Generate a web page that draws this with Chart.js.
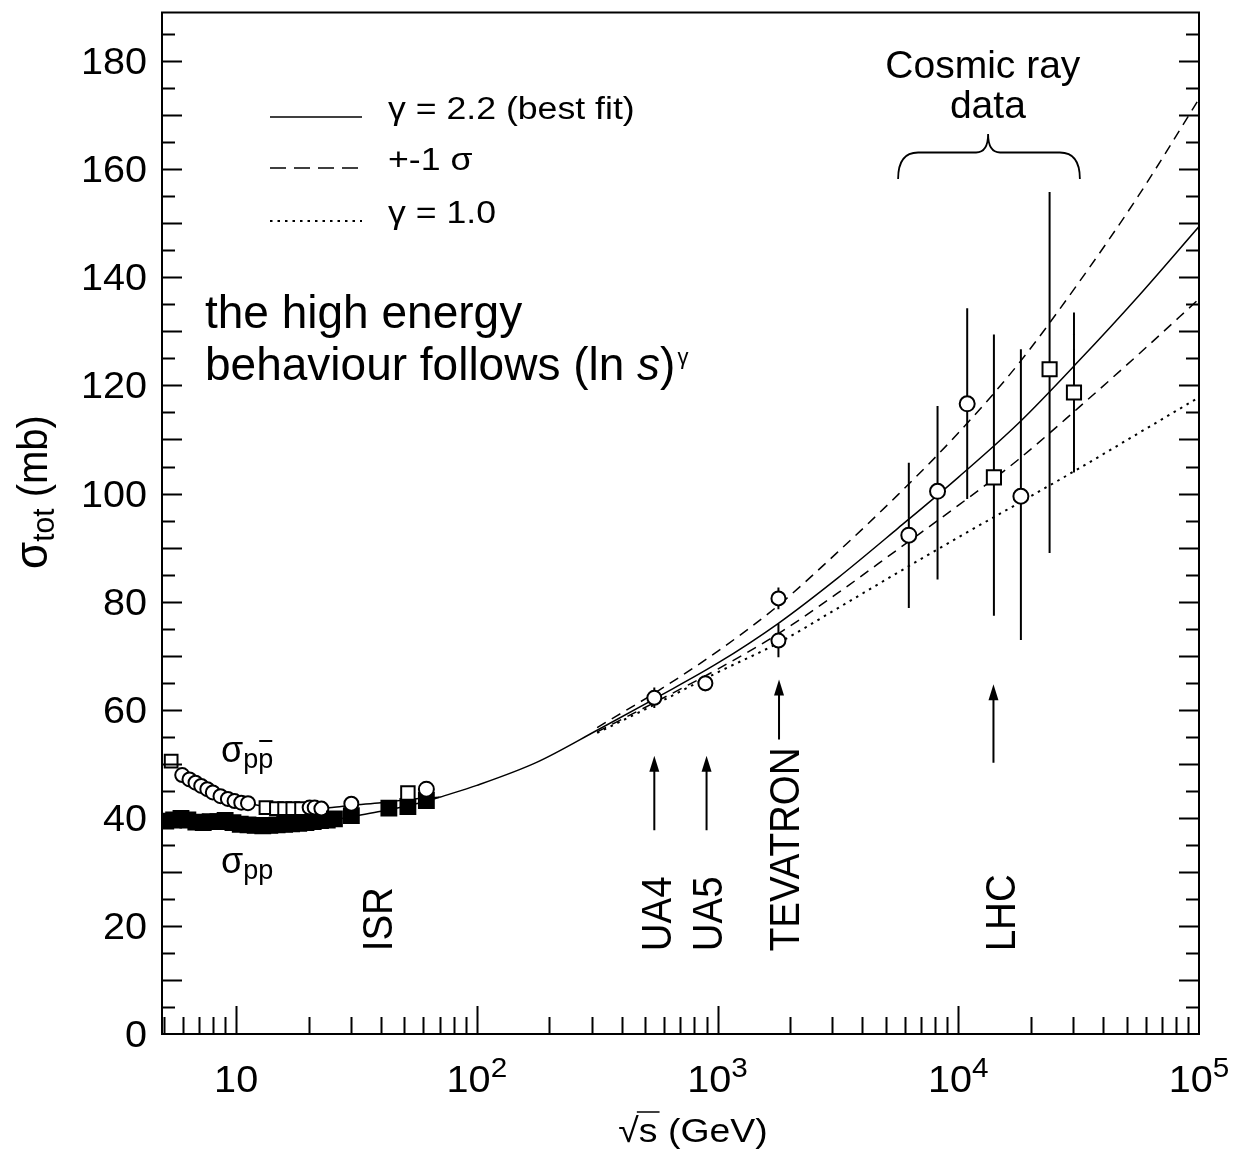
<!DOCTYPE html>
<html>
<head>
<meta charset="utf-8">
<script src="https://cdn.jsdelivr.net/npm/chart.js@4.4.0/dist/chart.umd.min.js"></script>
<style>
  html, body { margin: 0; padding: 0; background: #fff; }
  #wrap { width: 1238px; height: 1157px; }
</style>
</head>
<body>
<div id="wrap"><canvas id="chart"></canvas></div>
<script>
// sqrt(s) in GeV, sigma_tot in mb

// pp, low energy (filled squares)
const ppLowX = [5.1, 5.5, 5.9, 6.3, 6.8, 7.3, 7.8, 8.4, 9.0, 9.7, 10.4, 11.2, 12.0, 12.9, 13.8, 14.8, 15.9, 17.0, 18.2, 19.5, 20.9, 22.4, 23.9];
const ppLowY = [39.4, 39.6, 39.9, 39.6, 39.2, 39.1, 39.3, 39.3, 39.5, 39.1, 38.8, 38.7, 38.6, 38.5, 38.6, 38.7, 38.8, 38.9, 39.0, 39.1, 39.3, 39.5, 39.6];
// pp, ISR
const ppIsrX = [25.6, 30.1, 43.1, 51.7, 61.7];
const ppIsrY = [39.8, 40.4, 41.8, 42.1, 43.2];

// pbar-p, low energy (open symbols)
const pbarLowX = [5.37, 5.97, 6.40, 6.78, 7.16, 7.59, 8.00, 8.61, 9.24, 9.85, 10.5, 11.2, 13.3, 14.7, 15.9, 17.2, 18.7, 20.2, 21.2, 22.6];
const pbarLowY = [50.5, 47.9, 47.1, 46.5, 45.9, 45.3, 44.7, 44.0, 43.5, 43.1, 42.8, 42.7, 41.9, 41.7, 41.7, 41.7, 41.7, 41.9, 41.9, 41.7];
const pbarLowShape = ['rect', 'circle', 'circle', 'circle', 'circle', 'circle', 'circle', 'circle', 'circle', 'circle', 'circle', 'circle',
                      'rect', 'rect', 'rect', 'rect', 'rect', 'circle', 'circle', 'circle'];
// pbar-p, ISR
const pbarIsrX = [30.1, 51.7, 61.7];
const pbarIsrY = [42.6, 44.6, 45.3];

// pbar-p colliders: UA4, UA5, Tevatron (two)
const colliderX = [546, 890, 1790, 1790];
const colliderY = [62.2, 64.9, 80.6, 72.8];
const colliderErr = [1.9, 1.5, 2.0, 3.1];

// cosmic ray data
const cosmicX = [6230, 8200, 10890, 14060, 18200, 23950, 30240];
const cosmicY = [92.3, 100.4, 116.6, 103.0, 99.5, 123.0, 118.7];
const cosmicLo = [78.8, 84.1, 99.0, 77.4, 72.9, 89.0, 103.9];
const cosmicHi = [105.7, 116.2, 134.3, 129.4, 126.7, 155.8, 133.5];
const cosmicShape = ['circle', 'circle', 'circle', 'rect', 'circle', 'rect', 'rect'];

// fits
const lowFitX = [10, 15, 20, 25, 30, 40, 50, 62, 70];
const ppFitY = [38.9, 38.6, 38.9, 39.5, 40.2, 41.2, 42.1, 43.1, 43.8];
const pbarFitY = [43.1, 41.8, 41.7, 41.9, 42.3, 42.8, 43.3, 43.7, 43.8];

const fitX = [70, 100, 178, 316, 562, 1000, 1778, 3162, 5623, 1e4, 17783, 31623, 56234, 1e5];
const bestY = [43.8, 46.0, 50.3, 56.2, 62.3, 68.6, 75.9, 84.4, 93.6, 103.0, 113.0, 124.5, 136.6, 149.4];
const bandX = [316, 562, 1000, 1778, 3162, 5623, 1e4, 17783, 31623, 56234, 1e5];
const plusY = [56.7, 63.4, 70.8, 79.2, 89.2, 99.8, 111.2, 124.0, 139.0, 155.2, 173.0];
const minusY = [55.9, 61.6, 67.5, 74.0, 81.6, 89.7, 97.8, 106.3, 115.9, 125.8, 136.0];
const gamma1Y = [55.7, 61.2, 66.9, 72.3, 78.8, 85.4, 91.9, 98.2, 104.6, 111.2, 117.8];

// axes
const yTicks = [0, 20, 40, 60, 80, 100, 120, 140, 160, 180];
const xDecades = [10, 100, 1000, 1e4, 1e5];
const xDecadeExp = ['', '2', '3', '4', '5'];

// experiment arrows: [sqrt(s), from, tip]
const arrows = [[546, 37.7, 51.5], [900, 37.7, 51.5], [1800, 54.5, 65.6], [14000, 50.2, 64.7]];

const pts = (xs, ys) => xs.map((x, i) => ({ x: x, y: ys[i] }));
const FONT = '"Liberation Sans", Arial, Helvetica, sans-serif';
const font = (size, italic) => (italic ? 'italic ' : '') + size + 'px ' + FONT;

// parts: [text, size, dy, italic]
function drawRun(ctx, parts, x, y, opt) {
    opt = opt || {};
    ctx.save();
    ctx.translate(x, y);
    if (opt.rot) ctx.rotate(opt.rot);
    ctx.scale(opt.sx || 1, opt.sy || 1);
    var w = 0;
    parts.forEach(p => { ctx.font = font(p[1], p[3]); w += ctx.measureText(p[0]).width; });
    var cx = opt.align === 'center' ? -w / 2 : (opt.align === 'right' ? -w : 0);
    ctx.fillStyle = '#000';
    ctx.textAlign = 'left';
    ctx.textBaseline = 'alphabetic';
    parts.forEach(p => {
        ctx.font = font(p[1], p[3]);
        ctx.fillText(p[0], cx, p[2] || 0);
        cx += ctx.measureText(p[0]).width;
    });
    ctx.restore();
    return w * (opt.sx || 1);
}

const decor = {
    id: 'decor',
    beforeDatasetsDraw(chart) {
        const ctx = chart.ctx, xs = chart.scales.x, ys = chart.scales.y, a = chart.chartArea;
        ctx.save();
        ctx.beginPath();
        ctx.rect(a.left, a.top, a.right - a.left, a.bottom - a.top);
        ctx.clip();
        ctx.strokeStyle = '#000';
        ctx.lineWidth = 2;
        ctx.beginPath();
        cosmicX.forEach((x, i) => {
            const X = xs.getPixelForValue(x);
            ctx.moveTo(X, ys.getPixelForValue(cosmicLo[i]));
            ctx.lineTo(X, ys.getPixelForValue(cosmicHi[i]));
        });
        colliderX.forEach((x, i) => {
            const X = xs.getPixelForValue(x);
            ctx.moveTo(X, ys.getPixelForValue(colliderY[i] - colliderErr[i]));
            ctx.lineTo(X, ys.getPixelForValue(colliderY[i] + colliderErr[i]));
        });
        ctx.stroke();

        // arrows
        ctx.fillStyle = '#000';
        arrows.forEach(ar => {
            const X = xs.getPixelForValue(ar[0]), Y0 = ys.getPixelForValue(ar[1]), Y1 = ys.getPixelForValue(ar[2]);
            ctx.beginPath();
            ctx.moveTo(X, Y0);
            ctx.lineTo(X, Y1 + 10);
            ctx.stroke();
            ctx.beginPath();
            ctx.moveTo(X, Y1);
            ctx.lineTo(X - 5, Y1 + 16);
            ctx.lineTo(X + 5, Y1 + 16);
            ctx.closePath();
            ctx.fill();
        });

        // brace over cosmic ray data
        const xl = xs.getPixelForValue(5623), xr = xs.getPixelForValue(32000), xt = xs.getPixelForValue(13300);
        const yb = ys.getPixelForValue(158.2), ym = ys.getPixelForValue(163.1), yt = ys.getPixelForValue(166.5);
        ctx.lineWidth = 1.8;
        ctx.beginPath();
        ctx.moveTo(xl, yb);
        ctx.quadraticCurveTo(xl, ym, xl + 20, ym);
        ctx.lineTo(xt - 12, ym);
        ctx.quadraticCurveTo(xt, ym, xt, yt);
        ctx.quadraticCurveTo(xt, ym, xt + 12, ym);
        ctx.lineTo(xr - 20, ym);
        ctx.quadraticCurveTo(xr, ym, xr, yb);
        ctx.stroke();
        ctx.restore();
    },
    afterDraw(chart) {
        const ctx = chart.ctx, xs = chart.scales.x, ys = chart.scales.y, a = chart.chartArea;
        ctx.save();
        ctx.strokeStyle = '#000';
        ctx.lineWidth = 2;
        ctx.strokeRect(a.left, a.top, a.right - a.left, a.bottom - a.top);

        // inward ticks
        ctx.beginPath();
        for (let v = 5; v < ys.max; v += 5) {
            const Y = Math.round(ys.getPixelForValue(v)) + 0.5;
            const len = v % 10 === 0 ? 20 : 13;
            ctx.moveTo(a.left, Y); ctx.lineTo(a.left + len, Y);
            ctx.moveTo(a.right, Y); ctx.lineTo(a.right - len, Y);
        }
        for (let d = 1; d < 1e5; d *= 10) {
            for (let m = 1; m <= 9; m++) {
                const v = m * d;
                if (v <= xs.min || v >= xs.max) continue;
                const X = Math.round(xs.getPixelForValue(v)) + 0.5;
                ctx.moveTo(X, a.bottom); ctx.lineTo(X, a.bottom - (m === 1 ? 28 : 17));
            }
        }
        ctx.stroke();

        // tick labels
        yTicks.forEach(v => {
            drawRun(ctx, [[String(v), 36]], a.left - 15, ys.getPixelForValue(v) + 13, { align: 'right', sx: 1.1 });
        });
        xDecades.forEach((v, i) => {
            const parts = [['10', 36]];
            if (xDecadeExp[i]) parts.push([xDecadeExp[i], 27, -15]);
            drawRun(ctx, parts, xs.getPixelForValue(v), a.bottom + 58, { align: 'center', sx: 1.1 });
        });

        // x axis title with radical bar
        const cxT = 693;
        const tw = drawRun(ctx, [['\u221A', 34], ['s (GeV)', 34]], cxT, 1142, { align: 'center', sx: 1.1 });
        ctx.font = font(34);
        const rw = ctx.measureText('\u221A').width * 1.1;
        const sw = ctx.measureText('s').width * 1.1;
        const x0 = cxT - tw / 2;
        ctx.lineWidth = 1.5;
        ctx.beginPath();
        ctx.moveTo(x0 + rw - 2, 1112);
        ctx.lineTo(x0 + rw + sw + 2, 1112);
        ctx.stroke();

        // y axis title
        drawRun(ctx, [['\u03C3', 44], ['tot', 30, 7], [' (mb)', 40]], 47, 492, { align: 'center', rot: -Math.PI / 2, sy: 1.05 });

        // sigma labels
        ctx.font = font(36);
        const sgw = ctx.measureText('\u03C3').width;
        ctx.font = font(27);
        const pw = ctx.measureText('p').width;
        drawRun(ctx, [['\u03C3', 36], ['pp', 27, 6]], 221, 762);
        drawRun(ctx, [['\u03C3', 36], ['pp', 27, 6]], 221, 873);
        ctx.lineWidth = 2;
        ctx.beginPath();
        ctx.moveTo(221 + sgw + pw + 1, 741); ctx.lineTo(221 + sgw + 2 * pw - 1, 741);
        ctx.stroke();

        // experiment labels
        const rot = -Math.PI / 2;
        [['ISR', 38.3], ['UA4', 553], ['UA5', 902], ['TEVATRON', 1895], ['LHC', 14890]].forEach(l => {
            drawRun(ctx, [[l[0], 38.5]], xs.getPixelForValue(l[1]) + 15, ys.getPixelForValue(15.3), { rot: rot, sy: 1.08 });
        });

        // cosmic ray label
        drawRun(ctx, [['Cosmic ray', 39]], xs.getPixelForValue(12650), 78, { align: 'center' });
        drawRun(ctx, [['data', 39]], xs.getPixelForValue(13270), 118, { align: 'center' });

        // comment
        drawRun(ctx, [['the high energy', 46]], 205, 328);
        const bw = drawRun(ctx, [['behaviour follows (ln ', 46], ['s', 46, 0, true], [')', 46]], 205, 380);
        drawRun(ctx, [['\u03B3', 22]], 205 + bw + 2, 364);

        // legend
        const lx0 = 270, lx1 = 362;
        const rows = [[117, [], 1.6, '\u03B3 = 2.2 (best fit)'], [168, [16, 8], 1.6, '+-1 \u03C3'], [221, [2.5, 5], 2, '\u03B3 = 1.0']];
        rows.forEach(r => {
            ctx.setLineDash(r[1]);
            ctx.lineWidth = r[2];
            ctx.beginPath();
            ctx.moveTo(lx0, r[0]); ctx.lineTo(lx1, r[0]);
            ctx.stroke();
            ctx.setLineDash([]);
            drawRun(ctx, [[r[3], 31]], 388, r[0] + 2, { sx: 1.15 });
        });
        ctx.restore();
    }
};

const base = { pointBackgroundColor: '#fff', pointBorderColor: '#000', pointBorderWidth: 2, showLine: false };
const line = { showLine: true, borderColor: '#000', pointRadius: 0, fill: false, cubicInterpolationMode: 'monotone', order: 5 };

new Chart(document.getElementById('chart'), {
    type: 'scatter',
    data: {
        datasets: [
            Object.assign({}, base, { data: pts(cosmicX, cosmicY), pointStyle: cosmicShape, pointRadius: cosmicShape.map(s => s === 'rect' ? 10 : 7.5) }),
            Object.assign({}, base, { data: pts(colliderX, colliderY), pointStyle: 'circle', pointRadius: 7 }),
            Object.assign({}, base, { data: pts(pbarIsrX, pbarIsrY), pointStyle: ['circle', 'rect', 'circle'], pointRadius: [7, 9.5, 7.5] }),
            Object.assign({}, base, { data: pts(ppIsrX, ppIsrY), pointStyle: 'rect', pointRadius: 10.5, pointBackgroundColor: '#000' }),
            Object.assign({}, base, { data: pts(pbarLowX, pbarLowY), pointStyle: pbarLowShape, pointRadius: pbarLowShape.map(s => s === 'rect' ? 9 : 7) }),
            Object.assign({}, base, { data: pts(ppLowX, ppLowY), pointStyle: 'rect', pointRadius: 10.5, pointBackgroundColor: '#000' }),
            Object.assign({}, line, { data: pts(fitX, bestY), borderWidth: 1.5 }),
            Object.assign({}, line, { data: pts(lowFitX, ppFitY), borderWidth: 1.5 }),
            Object.assign({}, line, { data: pts(lowFitX, pbarFitY), borderWidth: 1.5 }),
            Object.assign({}, line, { data: pts(bandX, plusY), borderWidth: 1.5, borderDash: [10, 7] }),
            Object.assign({}, line, { data: pts(bandX, minusY), borderWidth: 1.5, borderDash: [10, 7] }),
            Object.assign({}, line, { data: pts(bandX, gamma1Y), borderWidth: 2, borderDash: [2.5, 5] })
        ]
    },
    options: {
        responsive: true,
        maintainAspectRatio: false,
        animation: false,
        layout: { padding: { top: 8, right: 39, left: 0, bottom: 0 } },
        plugins: { legend: { display: false }, tooltip: { enabled: false } },
        scales: {
            x: {
                type: 'logarithmic', min: 4.92, max: 1e5,
                ticks: { display: false }, grid: { display: false }, border: { display: false },
                afterFit: s => { s.height = 123; }
            },
            y: {
                type: 'linear', min: 0, max: 189,
                ticks: { display: false }, grid: { display: false }, border: { display: false },
                afterFit: s => { s.width = 162; }
            }
        }
    },
    plugins: [decor]
});
</script>
</body>
</html>
